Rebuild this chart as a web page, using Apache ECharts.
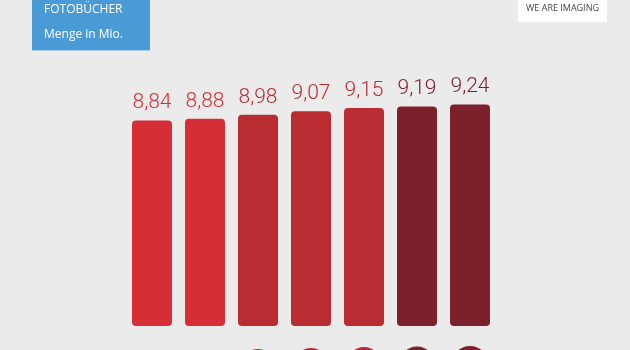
<!DOCTYPE html>
<html>
<head>
<meta charset="utf-8">
<script src="https://cdn.jsdelivr.net/npm/echarts@6/dist/echarts.min.js"></script>
<style>
  html, body { margin: 0; padding: 0; background: #ebebeb; }
  #chart { width: 630px; height: 350px; }
</style>
</head>
<body>
<div id="chart"></div>
<script>
// Photo book volumes, in millions
const categories = ['1', '2', '3', '4', '5', '6', '7'];
const volumes = [8.84, 8.88, 8.98, 9.07, 9.15, 9.19, 9.24];
const titleLines = ['FOTOBÜCHER', 'Menge in Mio.'];
const brandText = 'WE ARE IMAGING';

// colour tiers: bright red, mid red, dark red
function tierColor(i) {
  if (i < 2) return '#d52e36';
  if (i < 5) return '#b82c32';
  return '#7c202b';
}

// marker circles sit this many pixels below the bar baseline
const markerDepth = 39;

const chart = echarts.init(document.getElementById('chart'), null, { renderer: 'canvas' });

chart.setOption({
  backgroundColor: '#ebebeb',
  animation: false,
  grid: [
    { left: 125.5, width: 371, top: 34, height: 292 },
    { left: 125.5, width: 371, top: 326, height: 24 }
  ],
  xAxis: [
    { type: 'category', data: categories, gridIndex: 0, show: false },
    { type: 'category', data: categories, gridIndex: 1, show: false }
  ],
  yAxis: [
    { type: 'value', gridIndex: 0, min: 3.7, max: 11, show: false },
    { type: 'value', gridIndex: 1, min: 0, max: 24, inverse: true, show: false }
  ],
  series: [
    {
      type: 'bar',
      xAxisIndex: 0,
      yAxisIndex: 0,
      barWidth: 40,
      data: volumes.map((v, i) => ({
        value: v,
        itemStyle: { color: tierColor(i), borderRadius: 4 },
        label: { color: tierColor(i) }
      })),
      label: {
        show: true,
        position: 'top',
        distance: 7,
        fontFamily: 'Roboto',
        fontWeight: 300,
        fontSize: 21,
        formatter: p => p.value.toFixed(2).replace('.', ',')
      }
    },
    {
      type: 'scatter',
      xAxisIndex: 1,
      yAxisIndex: 1,
      clip: false,
      symbol: 'circle',
      data: volumes.map((v, i) => ({
        value: [categories[i], markerDepth],
        itemStyle: { color: tierColor(i), opacity: 1 }
      })),
      symbolSize: (val, p) => 32 + (volumes[p.dataIndex] - 8.98) * 23
    }
  ],
  graphic: [
    {
      type: 'group',
      left: 32,
      top: 0,
      children: [
        { type: 'rect', shape: { x: 0, y: 0, width: 118, height: 51 }, style: { fill: '#4a9bd5' } },
        { type: 'rect', shape: { x: 0, y: 50, width: 118, height: 1 }, style: { fill: '#a9cbe6' } },
        {
          type: 'text', x: 12, y: 10,
          style: { text: titleLines[0], fill: '#ffffff', font: '500 12px "Open Sans", sans-serif', verticalAlign: 'middle' }
        },
        {
          type: 'text', x: 12, y: 35,
          style: { text: titleLines[1], fill: '#ffffff', font: '500 12px "Open Sans", sans-serif', verticalAlign: 'middle' }
        }
      ]
    },
    {
      type: 'group',
      left: 518,
      top: 0,
      children: [
        { type: 'rect', shape: { x: 0, y: 0, width: 89, height: 22 }, style: { fill: '#ffffff' } },
        {
          type: 'text', x: 44.5, y: 8,
          style: { text: brandText, fill: '#444444', font: '9px "Open Sans", sans-serif', align: 'center', verticalAlign: 'middle' }
        }
      ]
    }
  ]
});
</script>
</body>
</html>
